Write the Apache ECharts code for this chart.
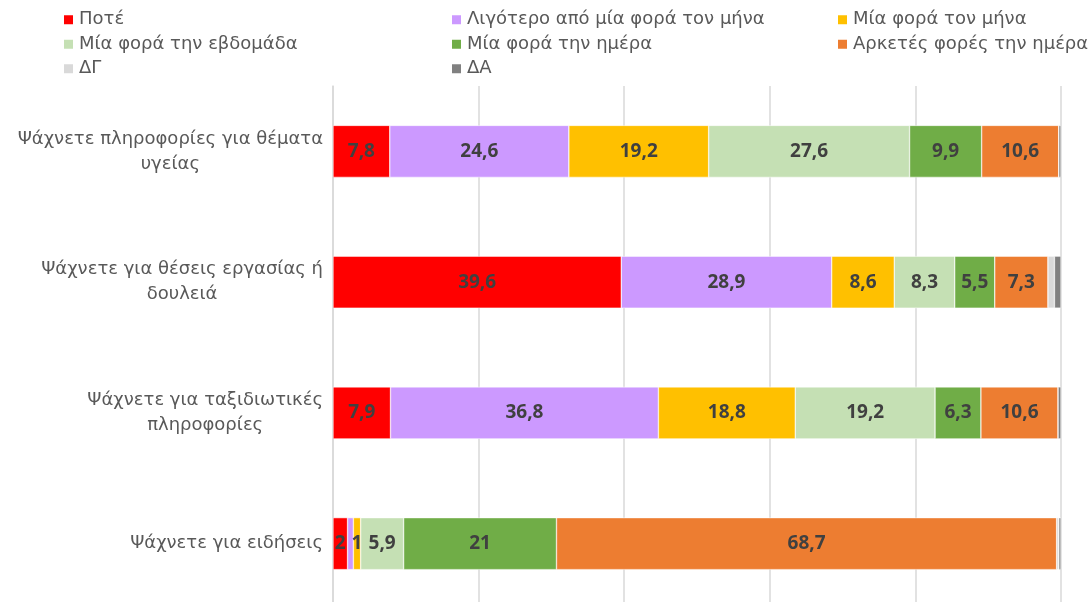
<!DOCTYPE html>
<html>
<head>
<meta charset="utf-8">
<script src="https://cdn.jsdelivr.net/npm/echarts@6/dist/echarts.min.js"></script>
<style>html,body{margin:0;padding:0;background:#fff;}#c{width:1091px;height:602px;}</style>
</head>
<body>
<div id="c"></div>
<script>
const categories = [
  ["Ψάχνετε πληροφορίες για θέματα", "υγείας"],
  ["Ψάχνετε για θέσεις εργασίας ή", "δουλειά"],
  ["Ψάχνετε για ταξιδιωτικές", "πληροφορίες"],
  ["Ψάχνετε για ειδήσεις"]
];
const seriesNames = ["Ποτέ", "Λιγότερο από μία φορά τον μήνα", "Μία φορά τον μήνα", "Μία φορά την εβδομάδα", "Μία φορά την ημέρα", "Αρκετές φορές την ημέρα", "ΔΓ", "ΔΑ"];
const never      = [7.8, 39.6, 7.9, 2];
const lessMonth  = [24.6, 28.9, 36.8, 0.8];
const onceMonth  = [19.2, 8.6, 18.8, 1];
const onceWeek   = [27.6, 8.3, 19.2, 5.9];
const onceDay    = [9.9, 5.5, 6.3, 21];
const severalDay = [10.6, 7.3, 10.6, 68.7];
const dontKnow   = [0, 0.9, 0, 0.3];
const noAnswer   = [0.3, 0.9, 0.4, 0.3];
const xTicks = [0, 20, 40, 60, 80, 100];

const colors = ["#FF0000", "#CC99FF", "#FFC000", "#C5E0B4", "#70AD47", "#ED7D31", "#D9D9D9", "#808080"];
const values = [never, lessMonth, onceMonth, onceWeek, onceDay, severalDay, dontKnow, noAnswer];
const FONT = "DejaVu Sans";
const LFONT = "Open Sans";

const chart = echarts.init(document.getElementById('c'));
const series = seriesNames.map((name, i) => ({
  name: name,
  type: 'bar',
  stack: 'total',
  barWidth: 52,
  itemStyle: { color: colors[i], borderColor: '#ffffff', borderWidth: 0.5 },
  label: {
    show: i < 6,
    position: 'inside',
    color: '#404040',
    fontWeight: 'bold',
    fontSize: 19,
    fontFamily: LFONT,
    formatter: p => (i === 1 && p.dataIndex === 3) ? '' : String(p.value).replace('.', ',')
  },
  data: values[i]
}));

const legendText = { color: '#595959', fontSize: 18, fontFamily: FONT, lineHeight: 24.5 };
const mkLegend = (left, data) => ({
  left: left, top: 7.5, orient: 'vertical', itemWidth: 11, itemHeight: 11, itemGap: 0,
  icon: 'rect', textStyle: legendText, data: data, padding: 0
});

chart.setOption({
  animation: false,
  color: colors,
  legend: [
    mkLegend(62, [seriesNames[0], seriesNames[3], seriesNames[6]]),
    mkLegend(450, [seriesNames[1], seriesNames[4], seriesNames[7]]),
    mkLegend(836, [seriesNames[2], seriesNames[5]])
  ],
  grid: { left: 333, width: 728, top: 86, height: 523, containLabel: false, outerBoundsMode: 'none' },
  xAxis: {
    type: 'value', min: xTicks[0], max: xTicks[xTicks.length - 1], interval: 20,
    axisLabel: { show: false }, axisLine: { show: false }, axisTick: { show: false },
    splitLine: { show: true, lineStyle: { color: '#D9D9D9', width: 1.5 } }
  },
  yAxis: {
    type: 'category', inverse: true,
    data: categories.map(c => c.join('\n')),
    axisTick: { show: false },
    axisLine: { show: true, lineStyle: { color: '#D9D9D9', width: 1.5 } },
    axisLabel: {
      margin: 10,
      align: 'right',
      formatter: v => v.split('\n').map(s => '{a|' + s + '}').join('\n'),
      rich: { a: { align: 'center', color: '#595959', fontSize: 18, fontFamily: FONT, lineHeight: 25 } }
    }
  },
  series: series
});
</script>
</body>
</html>
